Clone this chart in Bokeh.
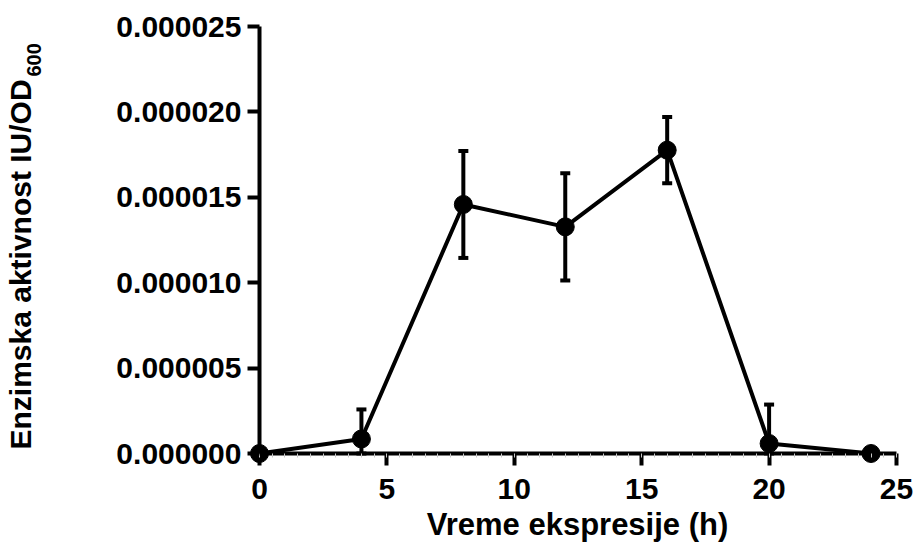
from math import pi
from bokeh.plotting import figure
from bokeh.models import (Range1d, FixedTicker, PrintfTickFormatter, Whisker,
                          ColumnDataSource, Label, TeeHead)
from bokeh.embed import file_html
from bokeh.resources import INLINE

# ---- data ----
time_h = [0, 4, 8, 12, 16, 20, 24]
activity = [0.0, 0.85e-6, 14.58e-6, 13.27e-6, 17.76e-6, 0.585e-6, 0.0]
error = [0.0, 1.73e-6, 3.13e-6, 3.14e-6, 1.94e-6, 2.28e-6, 0.0]
x_ticks = [0, 5, 10, 15, 20, 25]
y_ticks = [0, 5e-6, 10e-6, 15e-6, 20e-6, 25e-6]
x_label = "Vreme ekspresije (h)"
y_label = "Enzimska aktivnost IU/OD"
y_label_sub = "600"

upper = [a + e for a, e in zip(activity, error)]
lower = [max(a - e, 0.0) for a, e in zip(activity, error)]
src = ColumnDataSource(dict(x=time_h, y=activity, upper=upper, lower=lower))

# ---- layout: the frame fills the canvas; axes sit at data 0 ----
W, H = 917, 546
X_MIN_PX, X_MAX_PX = 259, 896     # canvas x of x=0 and x=25
Y_MIN_PX, Y_MAX_PX = 453, 26      # canvas y of y=0 and y=25e-6
XMAX, YMAX = 25.0, 25e-6
sx = (X_MAX_PX - X_MIN_PX) / XMAX
sy = (Y_MIN_PX - Y_MAX_PX) / YMAX
x_range = Range1d(-X_MIN_PX / sx, (W - X_MIN_PX) / sx)
y_range = Range1d(-(H - Y_MIN_PX) / sy, Y_MIN_PX / sy)
FONT = "Liberation Sans"
LW = 4

p = figure(width=W, height=H, x_range=x_range, y_range=y_range,
           output_backend="svg", toolbar_location=None,
           min_border_left=0, min_border_right=0, min_border_top=0, min_border_bottom=0)
p.grid.visible = False
p.outline_line_color = None
p.background_fill_color = "white"
p.border_fill_color = "white"

for ax in (p.xaxis[0], p.yaxis[0]):
    ax.fixed_location = 0
    ax.axis_line_width = LW
    ax.axis_line_color = "black"
    ax.major_tick_line_width = LW
    ax.major_tick_line_color = "black"
    ax.major_tick_out = 12
    ax.major_tick_in = 0
    ax.major_label_text_font = FONT
    ax.major_label_text_font_style = "bold"
    ax.major_label_text_font_size = "30px"
    ax.major_label_text_color = "black"

p.xaxis.bounds = (0, XMAX)
p.xaxis.ticker = FixedTicker(ticks=x_ticks, minor_ticks=[i * 0.5 for i in range(51)])
p.xaxis.minor_tick_line_color = "#c8c8c8"
p.xaxis.minor_tick_line_width = 1
p.xaxis.minor_tick_out = 4
p.xaxis.minor_tick_in = 0
p.xaxis.major_label_standoff = 13

p.yaxis.bounds = (0, YMAX)
p.yaxis.ticker = FixedTicker(ticks=y_ticks)
p.yaxis.formatter = PrintfTickFormatter(format="%.6f")
p.yaxis.minor_tick_line_color = None
p.yaxis.major_label_standoff = 6

tee = dict(size=10, line_width=LW, line_color="black")
p.add_layout(Whisker(source=src, base="x", upper="upper", lower="lower",
                     line_width=LW, line_color="black",
                     upper_head=TeeHead(**tee), lower_head=TeeHead(**tee)))

p.line("x", "y", source=src, line_width=LW, line_color="black")
p.scatter("x", "y", source=src, size=18, fill_color="black", line_color="black")

# screen units: origin at the frame's bottom-left (= canvas bottom-left here)
p.add_layout(Label(x=577, y=H - 524, x_units="screen", y_units="screen",
                   text=x_label, text_align="center", text_baseline="alphabetic",
                   text_font=FONT, text_font_style="bold", text_font_size="31px",
                   text_color="black"))
p.add_layout(Label(x=20, y=H - 449, x_units="screen", y_units="screen",
                   text=y_label, angle=pi / 2, text_align="left", text_baseline="alphabetic",
                   text_font=FONT, text_font_style="bold", text_font_size="30px",
                   text_color="black"))
p.add_layout(Label(x=33, y=H - 76, x_units="screen", y_units="screen",
                   text=y_label_sub, angle=pi / 2, text_align="left", text_baseline="alphabetic",
                   text_font=FONT, text_font_style="bold", text_font_size="20px",
                   text_color="black"))

open("out.html", "w").write(file_html(p, INLINE))
